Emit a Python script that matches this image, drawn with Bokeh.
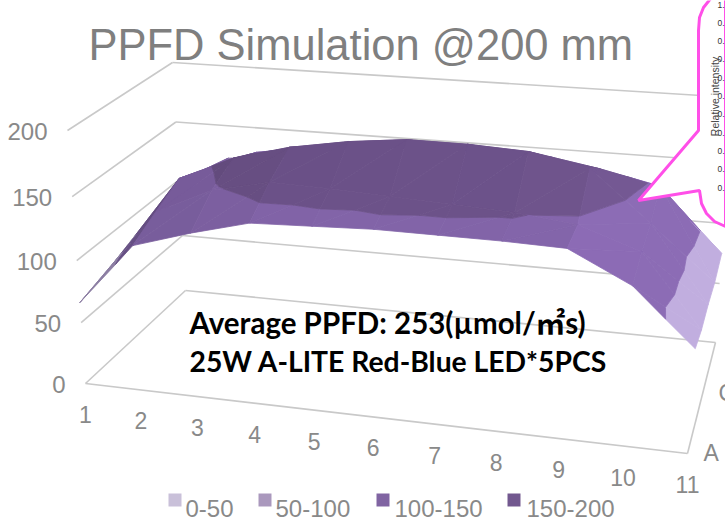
import numpy as np
from bokeh.plotting import figure
from bokeh.embed import file_html
from bokeh.resources import INLINE
from bokeh.core.properties import value

# ---- data ----
categories = ["1","2","3","4","5","6","7","8","9","10","11"]
series_names = ["A","B","C","D","E"]
row_a = [66,116,130,142,144,146,146,146,145,122,80]
row_b = [72,127,148,158,157,155,153,151,146,130,75]
row_c = [78,138,158,170,178,183,183,181,172,134,75]
row_d = [86,129,147,155,160,163,163,161,155,145,72]
row_e = [95,122,126,135,141,143,143,143,130,118,75]
z_ticks = [0,50,100,150,200]
warp = [0,.241,.486,.739,1]
u_pos = [0,.092,.186,.281,.380,.478,.580,.682,.786,.893,1]
bands = ["0-50","50-100","100-150","150-200"]
band_colors = ["#c9c0d9","#b3a2cf","#8264a8","#6c5289"]
legend_colors = ["#c9c0d9","#aa98bd","#8064a2","#72588f"]
title = "PPFD Simulation @200 mm"
note1 = "Average PPFD: 253(µmol/㎡s)"
note2 = "25W A-LITE Red-Blue LED*5PCS"
callout_ticks = ["1.","0.","0.","0.","0.","0.","0.","0.","0.","0.","0."]

Z = np.array([row_a,row_b,row_c,row_d,row_e],float)
GREY = "#898989"

# projection: box corners in page pixels  (u along categories, v along series)
C = {(0,0,0):(85,383),(1,0,0):(687,453),(0,1,0):(185,290),(1,1,0):(715,342),
     (0,0,1):(67,130),(1,0,1):(707,183),(0,1,1):(172,62),(1,1,1):(732,97)}
def proj(i,j,z):
    u=np.interp(i,range(11),u_pos); v=j/4; w=np.interp(z,z_ticks,warp)
    x=y=0.0
    for a in (0,1):
        for b in (0,1):
            for c in (0,1):
                f=(u if a else 1-u)*(v if b else 1-v)*(w if c else 1-w)
                x+=f*C[(a,b,c)][0]; y+=f*C[(a,b,c)][1]
    return x,y

p = figure(width=725,height=522,x_range=(0,725),y_range=(522,0),
           output_backend="svg",toolbar_location=None,min_border=0,outline_line_color=None)
p.xaxis.visible=False; p.yaxis.visible=False; p.grid.visible=False
p.background_fill_color="white"; p.border_fill_color="white"

def ln(a,b,color="#c9c9c9",w=1.6):
    p.line([a[0],b[0]],[a[1],b[1]],line_color=color,line_width=w)

for z in z_ticks:
    ln(proj(0,0,z),proj(0,4,z)); ln(proj(0,4,z),proj(10,4,z))
ln(proj(0,0,0),proj(10,0,0)); ln(proj(10,0,0),proj(10,4,0))

def clip(tri,lo,hi):
    def cut(poly,lim,keep_above):
        out=[]
        n=len(poly)
        for k in range(n):
            a,b=poly[k],poly[(k+1)%n]
            ina=(a[2]>=lim) if keep_above else (a[2]<=lim)
            inb=(b[2]>=lim) if keep_above else (b[2]<=lim)
            if ina: out.append(a)
            if ina!=inb:
                t=(lim-a[2])/(b[2]-a[2])
                out.append(tuple(a[m]+t*(b[m]-a[m]) for m in range(3)))
        return out
    poly=cut(list(tri),lo,True)
    if poly: poly=cut(poly,hi,False)
    return poly

def shade(hexc,f):
    r=[int(hexc[i:i+2],16) for i in (1,3,5)]
    return "#%02x%02x%02x"%tuple(int(min(255,max(0,c*f))) for c in r)

xs=[];ys=[];cols=[]
for j in range(3,-1,-1):
    for i in range(10):
        q=[(i,j,Z[j,i]),(i+1,j,Z[j,i+1]),(i+1,j+1,Z[j+1,i+1]),(i,j+1,Z[j+1,i])]
        g=((Z[j,i+1]+Z[j+1,i+1])-(Z[j,i]+Z[j+1,i]))/2
        f=float(np.clip(1-0.004*g,0.76,1.08))
        for tri in ([q[0],q[1],q[2]],[q[0],q[2],q[3]]):
            for b in range(4):
                poly=clip(tri,50*b,50*(b+1))
                if len(poly)>=3:
                    pts=[proj(*t) for t in poly]
                    xs.append([t[0] for t in pts]); ys.append([t[1] for t in pts])
                    cols.append(shade(band_colors[b],f))
p.patches(xs,ys,fill_color=cols,line_color=cols,line_width=0.8)

# value axis labels
for z in z_ticks:
    x,y=proj(0,0,z)
    p.text([x-20],[y+1],text=[str(z)],text_font=value("Liberation Sans"),text_font_size="24px",
           text_color=GREY,text_align="right",text_baseline="middle")
# category labels
for i,c in enumerate(categories):
    x,y=proj(i,0,0)
    p.text([x],[y+31],text=[c],text_font=value("Liberation Sans"),text_font_size="23px",
           text_color=GREY,text_align="center",text_baseline="middle")
# series labels
for j,s,dx,dy in zip([0,2],["A","C"],[16,17],[-1,-5]):
    x,y=proj(10,j,0)
    p.text([x+dx],[y+dy],text=[s],text_font=value("Liberation Sans"),text_font_size="23px",
           text_color=GREY,text_align="left",text_baseline="middle")

p.text([88],[44],text=[title],text_font=value("Liberation Sans"),text_font_size="43.5px",
       text_color="#7f7f7f",text_align="left",text_baseline="middle")

for t,y,fs in ((note1,322,"29.5px"),(note2,360,"28.3px")):
    p.text([189],[y],text=[t],text_font=value("Lato, 'Noto Sans CJK SC'"),text_font_size=fs,
           text_font_style="bold",text_color="#000000",text_align="left",text_baseline="middle")

# legend
lx=[168,258,376,507]; tx=[185,275,394,526]
for b in range(4):
    p.rect([lx[b]+6.5],[499.5],width=13,height=13,fill_color=legend_colors[b],line_color=None)
    p.text([tx[b]],[508],text=[bands[b]],text_font=value("Liberation Sans"),text_font_size="24px",
           text_color=GREY,text_align="left",text_baseline="middle")

# callout bubble
cxs=[725,711,703,699,698,698,638,699,701,706,714,725,725]
cys=[-3,-3,7,17,30,130,200,190,203,213,221,226,-3]
p.patch(cxs,cys,fill_color="white",line_color="#ff4fe8",line_width=3)
for k,s in enumerate(callout_ticks):
    p.text([717],[4+18.3*k],text=[s],text_font=value("Liberation Sans"),text_font_size="8.5px",
           text_color="#333333",text_align="left",text_baseline="middle")
p.text([714],[96],text=["Relative intensity"],angle=[np.pi/2],angle_units="rad",text_font=value("Liberation Sans"),
       text_font_size="10.5px",text_color="#444444",text_align="center",text_baseline="middle")

open("out.html","w").write(file_html(p,INLINE))
